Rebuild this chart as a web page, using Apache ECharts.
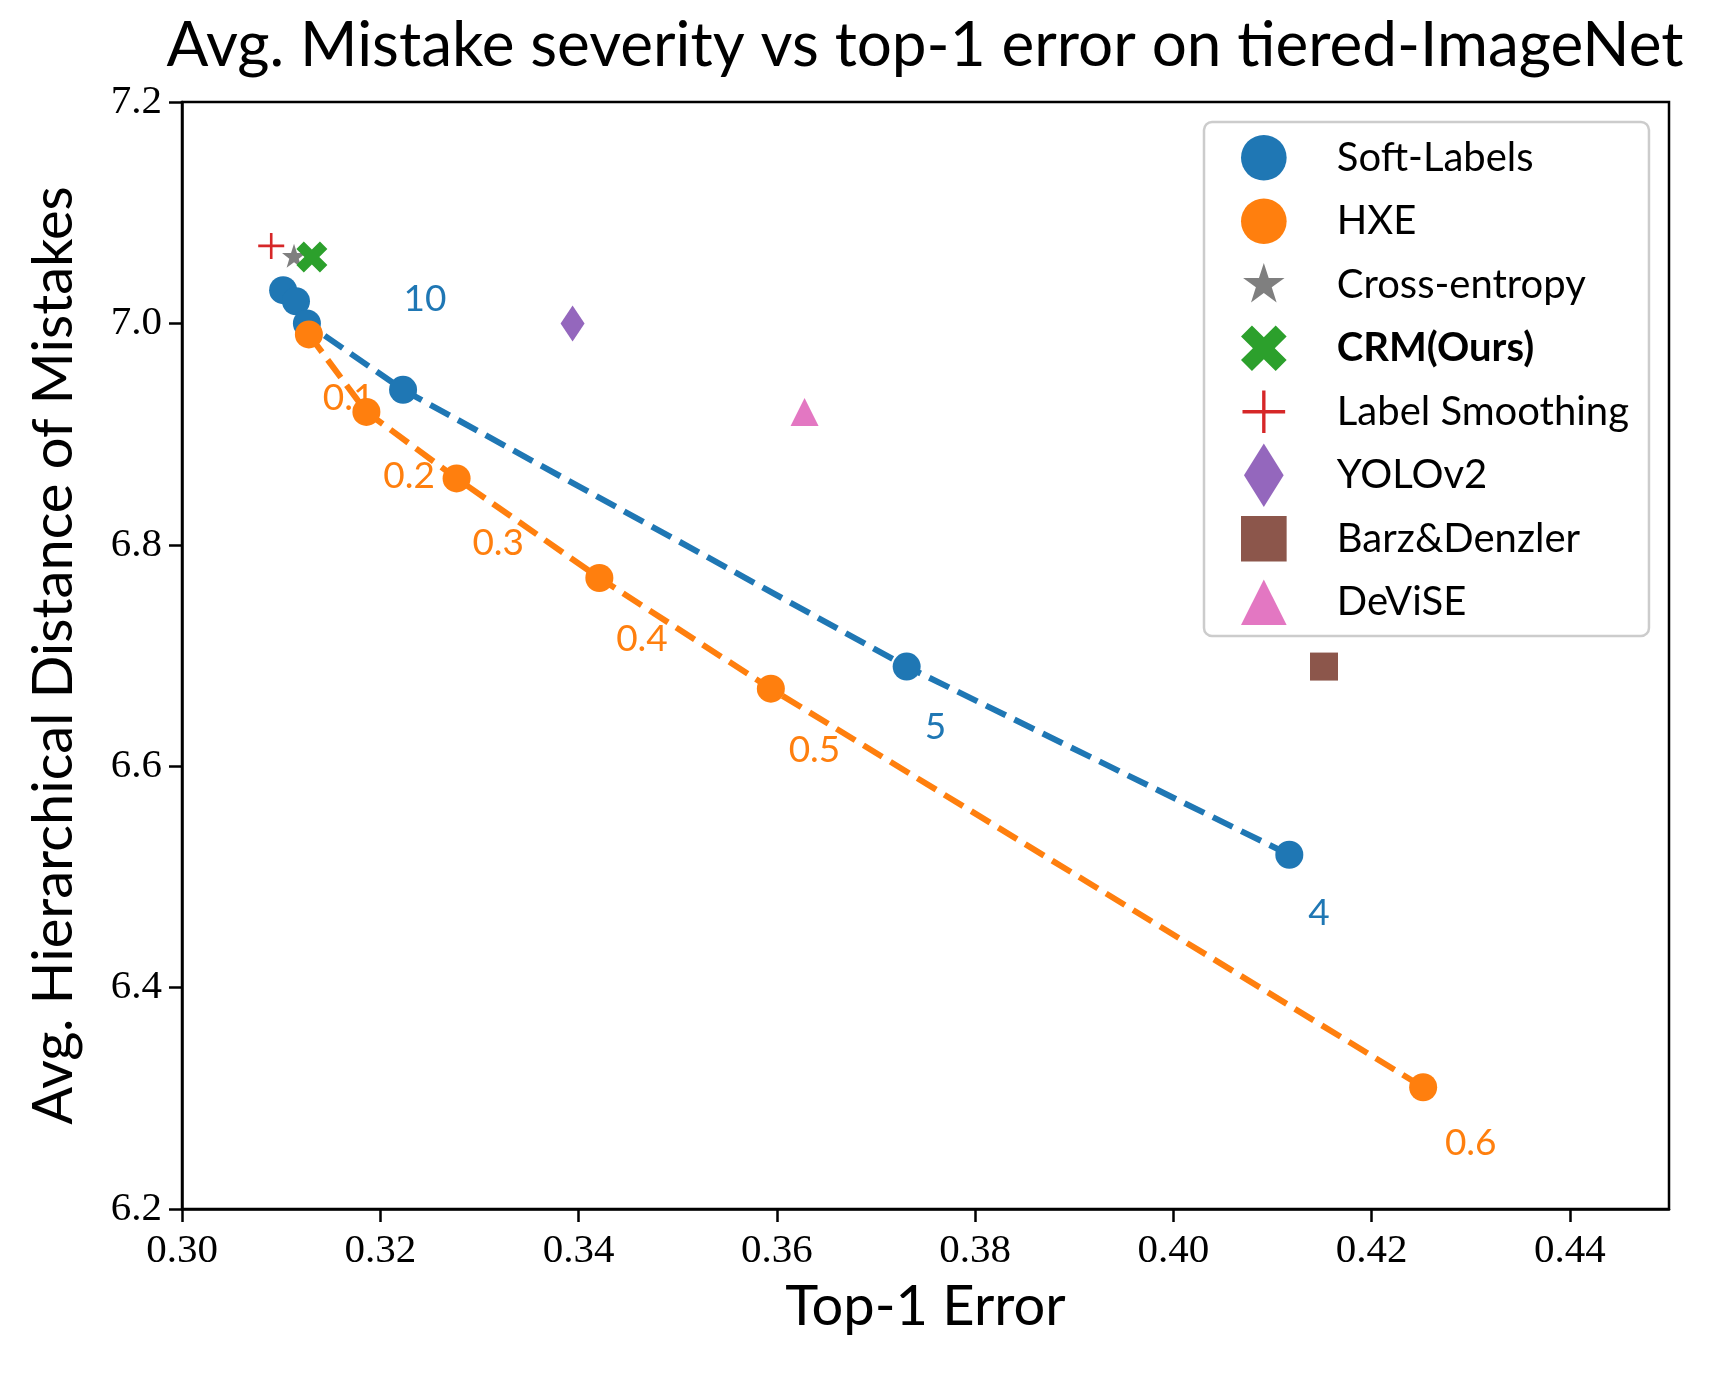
<!DOCTYPE html>
<html>
<head>
<meta charset="utf-8">
<script src="https://cdn.jsdelivr.net/npm/echarts@6/dist/echarts.min.js"></script>
<style>
  html, body { margin: 0; padding: 0; background: #fff; }
  #main { width: 1712px; height: 1374px; }
</style>
</head>
<body>
<div id="main"></div>
<script>
// Soft-Labels sweep (blue)
var softX = [0.3102, 0.3115, 0.3126, 0.3223, 0.3731, 0.4117];
var softY = [7.03, 7.02, 7.00, 6.94, 6.69, 6.52];
var softNotes = ['10', '5', '4'];
var softNoteX = [0.3245, 0.3760, 0.4147];
var softNoteY = [7.022, 6.635, 6.467];

// HXE sweep (orange)
var hxeX = [0.3128, 0.3186, 0.3277, 0.3421, 0.3594, 0.4252];
var hxeY = [6.99, 6.92, 6.86, 6.77, 6.67, 6.31];
var hxeNotes = ['0.1', '0.2', '0.3', '0.4', '0.5', '0.6'];
var hxeNoteX = [0.3168, 0.3229, 0.3319, 0.3464, 0.3638, 0.4300];
var hxeNoteY = [6.933, 6.862, 6.802, 6.715, 6.615, 6.260];

// single-point methods
var crossEntropy = [0.3113, 7.061];
var crm = [0.3131, 7.060];
var labelSmoothing = [0.3090, 7.070];
var yolo = [0.3394, 7.00];
var barz = [0.4152, 6.69];
var devise = [0.3628, 6.92];

var xTicks = [0.30, 0.32, 0.34, 0.36, 0.38, 0.40, 0.42, 0.44];

var SANS = 'Lato, "DejaVu Sans", sans-serif';
var SERIF = '"Liberation Serif", "DejaVu Serif", serif';

// plot markers
var STAR = 'path://M50,0 L61.8,34.5 L97.6,34.5 L68.8,55.9 L79.4,90.5 L50,69.1 L20.6,90.5 L31.2,55.9 L2.4,34.5 L38.2,34.5 Z';
var XMARK = 'path://M0,24 L24,0 L50,26 L76,0 L100,24 L74,50 L100,76 L76,100 L50,74 L24,100 L0,76 L26,50 Z';
var PLUS = 'path://M45,0 L55,0 L55,45 L100,45 L100,55 L55,55 L55,100 L45,100 L45,55 L0,55 L0,45 L45,45 Z';
var DIAMOND = 'path://M20,0 L40,33 L20,66 L0,33 Z';
var TRIANGLE = 'path://M50,0 L100,100 L0,100 Z';

// legend icons, all drawn in the same 46x64 box
var BOX = 'path://M0,0 M46,64 ';
var L_CIRCLE = BOX + 'M0,32 A23,23 0 1,1 46,32 A23,23 0 1,1 0,32 Z';
var L_STAR = BOX + 'M23,10 L27.9,25.2 L43.9,25.2 L31,34.6 L35.9,49.8 L23,40.4 L10.1,49.8 L15,34.6 L2.1,25.2 L18.1,25.2 Z';
var L_X = BOX + 'M0,20.04 L11.04,9 L23,20.96 L34.96,9 L46,20.04 L34.04,32 L46,43.96 L34.96,55 L23,43.04 L11.04,55 L0,43.96 L11.96,32 Z';
var L_PLUS = BOX + 'M21.3,10.5 L24.7,10.5 L24.7,30.3 L44.5,30.3 L44.5,33.7 L24.7,33.7 L24.7,53.5 L21.3,53.5 L21.3,33.7 L1.5,33.7 L1.5,30.3 L21.3,30.3 Z';
var L_DIAMOND = BOX + 'M23,0 L43,32 L23,64 L3,32 Z';
var L_SQUARE = BOX + 'M0,9 L46,9 L46,55 L0,55 Z';
var L_TRIANGLE = BOX + 'M23,9 L46,55 L0,55 Z';

function pairs(xs, ys) {
  return xs.map(function (x, i) { return [x, ys[i]]; });
}
function notes(xs, ys, txt) {
  return xs.map(function (x, i) { return [x, ys[i], txt[i]]; });
}

function noteSeries(data, color) {
  return {
    type: 'scatter',
    data: data,
    symbolSize: 2,
    itemStyle: { color: 'rgba(0,0,0,0)', opacity: 1 },
    silent: true,
    z: 1,
    label: {
      show: true,
      position: 'inside',
      formatter: function (p) { return p.value[2]; },
      color: color,
      opacity: 1,
      textBorderWidth: 0,
      fontFamily: SANS,
      fontSize: 37,
    },
  };
}

function trendSeries(name, data, color) {
  return {
    name: name,
    type: 'line',
    data: data,
    showSymbol: false,
    silent: true,
    z: 2,
    lineStyle: { color: color, width: 6, type: [22, 9.6] },
  };
}

function pointSeries(name, data, symbol, size, color) {
  return {
    name: name,
    type: 'scatter',
    data: data,
    symbol: symbol,
    symbolSize: size,
    symbolKeepAspect: false,
    z: 3,
    itemStyle: { color: color, opacity: 1 },
  };
}

var chartDom = document.getElementById('main');
var myChart = echarts.init(chartDom);

var option = {
  animation: false,
  backgroundColor: '#fff',
  title: {
    text: 'Avg. Mistake severity vs top-1 error on tiered-ImageNet',
    left: 920,
    top: 10,
    textAlign: 'center',
    textStyle: { fontFamily: SANS, fontSize: 62, fontWeight: 'normal', color: '#000' },
  },
  grid: {
    left: 182, right: 43, top: 102, bottom: 165,
    show: true, borderColor: '#000', borderWidth: 2.5,
    outerBoundsMode: 'none',
  },
  legend: {
    orient: 'vertical',
    left: 1204,
    top: 122,
    itemWidth: 46,
    itemHeight: 63.5,
    itemGap: 0,
    padding: [4, 20, 2, 37],
    borderColor: '#cccccc',
    borderWidth: 2.5,
    borderRadius: 8,
    backgroundColor: '#fff',
    selectedMode: false,
    textStyle: { fontFamily: SANS, fontSize: 40, color: '#000', padding: [0, 0, 0, 45] },
    data: [
      { name: 'Soft-Labels', icon: L_CIRCLE },
      { name: 'HXE', icon: L_CIRCLE },
      { name: 'Cross-entropy', icon: L_STAR },
      { name: 'CRM(Ours)', icon: L_X, textStyle: { fontWeight: 'bold' } },
      { name: 'Label Smoothing', icon: L_PLUS },
      { name: 'YOLOv2', icon: L_DIAMOND },
      { name: 'Barz&Denzler', icon: L_SQUARE },
      { name: 'DeViSE', icon: L_TRIANGLE },
    ],
  },
  xAxis: {
    type: 'value',
    min: 0.30,
    max: 0.45,
    name: 'Top-1 Error',
    nameLocation: 'middle',
    nameGap: 70,
    nameMoveOverlap: false,
    nameTextStyle: { fontFamily: SANS, fontSize: 56, color: '#000' },
    axisLine: { lineStyle: { color: '#000', width: 2.5 } },
    axisTick: { customValues: xTicks, length: 13, lineStyle: { color: '#000', width: 2.5 } },
    axisLabel: {
      customValues: xTicks,
      margin: 22,
      fontFamily: SERIF,
      fontSize: 41,
      color: '#000',
      formatter: function (v) { return v.toFixed(2); },
    },
    splitLine: { show: false },
  },
  yAxis: {
    type: 'value',
    min: 6.2,
    max: 7.2,
    interval: 0.2,
    name: 'Avg. Hierarchical Distance of Mistakes',
    nameLocation: 'middle',
    nameGap: 100,
    nameMoveOverlap: false,
    nameTextStyle: { fontFamily: SANS, fontSize: 56, color: '#000' },
    axisLine: { show: true, lineStyle: { color: '#000', width: 2.5 } },
    axisTick: { show: true, length: 13, lineStyle: { color: '#000', width: 2.5 } },
    axisLabel: {
      margin: 20,
      fontFamily: SERIF,
      fontSize: 41,
      color: '#000',
      formatter: function (v) { return v.toFixed(1); },
    },
    splitLine: { show: false },
  },
  series: [
    noteSeries(notes(softNoteX, softNoteY, softNotes), '#1f77b4'),
    noteSeries(notes(hxeNoteX, hxeNoteY, hxeNotes), '#ff7f0e'),
    trendSeries('Soft-Labels trend', pairs(softX, softY), '#1f77b4'),
    trendSeries('HXE trend', pairs(hxeX, hxeY), '#ff7f0e'),
    pointSeries('Soft-Labels', pairs(softX, softY), 'circle', 28, '#1f77b4'),
    pointSeries('HXE', pairs(hxeX, hxeY), 'circle', 28, '#ff7f0e'),
    pointSeries('Cross-entropy', [crossEntropy], STAR, 24, '#7f7f7f'),
    pointSeries('CRM(Ours)', [crm], XMARK, 31, '#2ca02c'),
    pointSeries('Label Smoothing', [labelSmoothing], PLUS, 26, '#d62728'),
    pointSeries('YOLOv2', [yolo], DIAMOND, [24, 36], '#9467bd'),
    pointSeries('Barz&Denzler', [barz], 'rect', 28, '#8c564b'),
    pointSeries('DeViSE', [devise], TRIANGLE, 28, '#e377c2'),
  ],
};

option && myChart.setOption(option);

window.onresize = function () {
  myChart.resize();
};
</script>
</body>
</html>
